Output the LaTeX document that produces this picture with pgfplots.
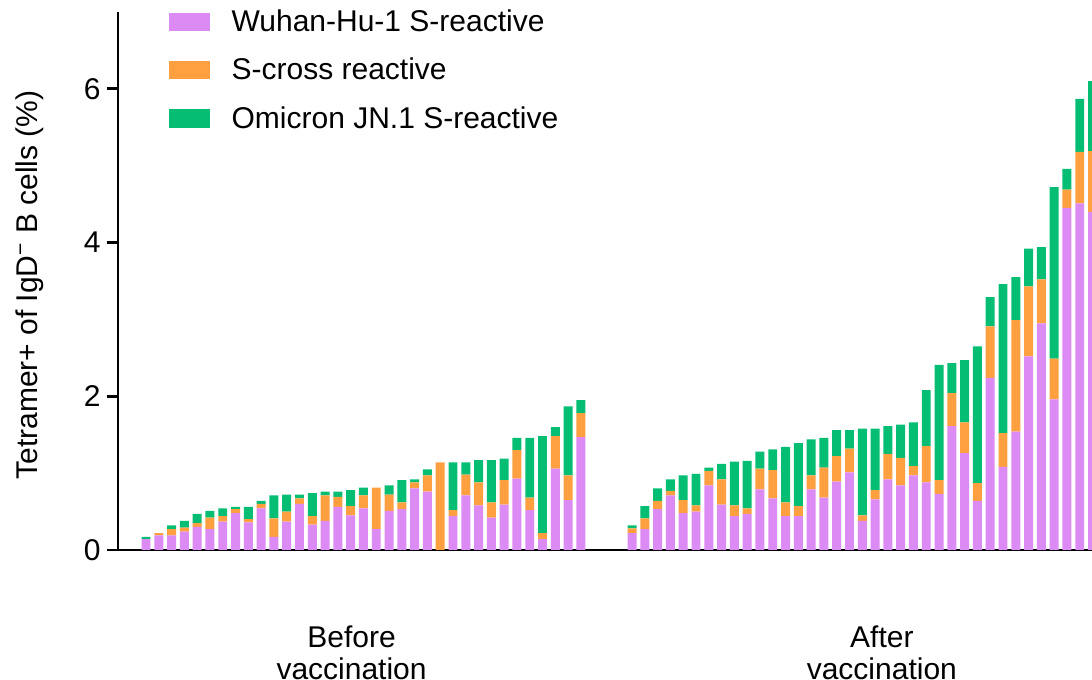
\documentclass[border=0pt]{standalone}
\usepackage{fontspec}
\setmainfont{Liberation Sans}
\usepackage{pgfplots}
\usepackage{pgfplotstable}
\pgfplotsset{compat=1.18}

\definecolor{wuhan}{HTML}{DB8BF3}
\definecolor{cross}{HTML}{FFA040}
\definecolor{jn1}{HTML}{05BE74}

% x = bar position, p = Wuhan-Hu-1, o = cross reactive, g = JN.1
\pgfplotstableread{
x  p    o    g
1  0.14 0.00 0.03
2  0.19 0.03 0.00
3  0.19 0.08 0.05
4  0.24 0.05 0.09
5  0.30 0.05 0.12
6  0.27 0.15 0.09
7  0.37 0.07 0.10
8  0.48 0.05 0.03
9  0.36 0.04 0.16
10 0.54 0.06 0.04
11 0.17 0.24 0.30
12 0.37 0.13 0.22
13 0.60 0.07 0.05
14 0.33 0.11 0.30
15 0.38 0.33 0.05
16 0.56 0.13 0.07
17 0.45 0.12 0.21
18 0.54 0.17 0.10
19 0.27 0.54 0.00
20 0.51 0.21 0.12
21 0.53 0.09 0.29
22 0.80 0.08 0.04
23 0.76 0.21 0.08
24 0.00 1.14 0.00
25 0.44 0.08 0.62
26 0.71 0.27 0.16
27 0.58 0.30 0.29
28 0.42 0.20 0.55
29 0.59 0.32 0.28
30 0.93 0.37 0.16
31 0.52 0.16 0.78
32 0.14 0.08 1.26
33 1.06 0.42 0.12
34 0.65 0.32 0.90
35 1.47 0.31 0.17
39 0.22 0.06 0.04
40 0.27 0.14 0.16
41 0.53 0.11 0.16
42 0.71 0.06 0.15
43 0.48 0.17 0.32
44 0.50 0.08 0.41
45 0.84 0.19 0.04
46 0.59 0.33 0.20
47 0.44 0.14 0.57
48 0.47 0.07 0.62
49 0.79 0.27 0.22
50 0.67 0.37 0.27
51 0.44 0.18 0.72
52 0.44 0.13 0.82
53 0.79 0.18 0.47
54 0.68 0.39 0.39
55 0.89 0.33 0.34
56 1.01 0.31 0.24
57 0.38 0.07 1.13
58 0.66 0.12 0.80
59 0.92 0.33 0.36
60 0.84 0.36 0.43
61 0.97 0.12 0.57
62 0.88 0.47 0.73
63 0.73 0.18 1.50
64 1.61 0.43 0.39
65 1.26 0.40 0.81
66 0.64 0.23 1.78
67 2.24 0.67 0.38
68 1.08 0.44 1.94
69 1.54 1.45 0.56
70 2.52 0.91 0.49
71 2.95 0.57 0.42
72 1.96 0.53 2.23
73 4.45 0.24 0.27
74 4.51 0.67 0.69
75 4.40 0.79 0.91
}\bars

\begin{document}
\begin{tikzpicture}
  \begin{axis}[
    name=ax,
    scale only axis,
    width=487pt, height=269pt,
    xmin=-1.19, xmax=74.96,
    ymin=0, ymax=7,
    axis x line*=bottom,
    axis y line*=left,
    axis line style={line width=1.4pt},
    ybar stacked,
    bar width=0.7,
    ytick={0,2,4,6},
    tick align=outside,
    ytick style={line width=1.4pt, black},
    major tick length=5.5pt,
    xtick={17.07,58.53},
    xticklabels={Before\\vaccination, After\\vaccination},
    xtick style={draw=none},
    xticklabel style={align=center, font=\fontsize{15}{16}\selectfont,
      inner sep=0pt, yshift=-32pt},
    yticklabel style={font=\fontsize{15}{18}\selectfont, inner sep=3pt},
    /pgf/number format/assume math mode=true,
    ylabel={Tetramer+ of IgD\textsuperscript{−} B cells (\%)},
    ylabel style={font=\fontsize{15}{18}\selectfont,
      at={(axis description cs:-0.0903,0.4926)}, anchor=center},
    legend style={
      at={(axis description cs:0.0458,1)}, anchor=north west, yshift=3.5pt,
      draw=none, fill=none,
      font=\fontsize{15}{18}\selectfont,
      nodes={inner sep=0pt, text height=11pt, text depth=0pt},
      row sep=13.2pt, column sep=10.8pt,
      cells={anchor=west},
    },
    legend image code/.code={
      \fill[#1,draw=none] (0pt,-5.3pt) rectangle (20.5pt,3.9pt);
    },
  ]
    \addplot[fill=wuhan, draw=none] table[x=x, y=p] {\bars};
    \addlegendentry{Wuhan-Hu-1 S-reactive}
    \addplot[fill=cross, draw=none] table[x=x, y=o] {\bars};
    \addlegendentry{S-cross reactive}
    \addplot[fill=jn1, draw=none] table[x=x, y=g] {\bars};
    \addlegendentry{Omicron JN.1 S-reactive}
  \end{axis}
  \pgfresetboundingbox
  \useasboundingbox ([xshift=-59pt,yshift=-65pt]ax.south west)
    rectangle ([yshift=6pt]ax.north east);
\end{tikzpicture}
\end{document}
